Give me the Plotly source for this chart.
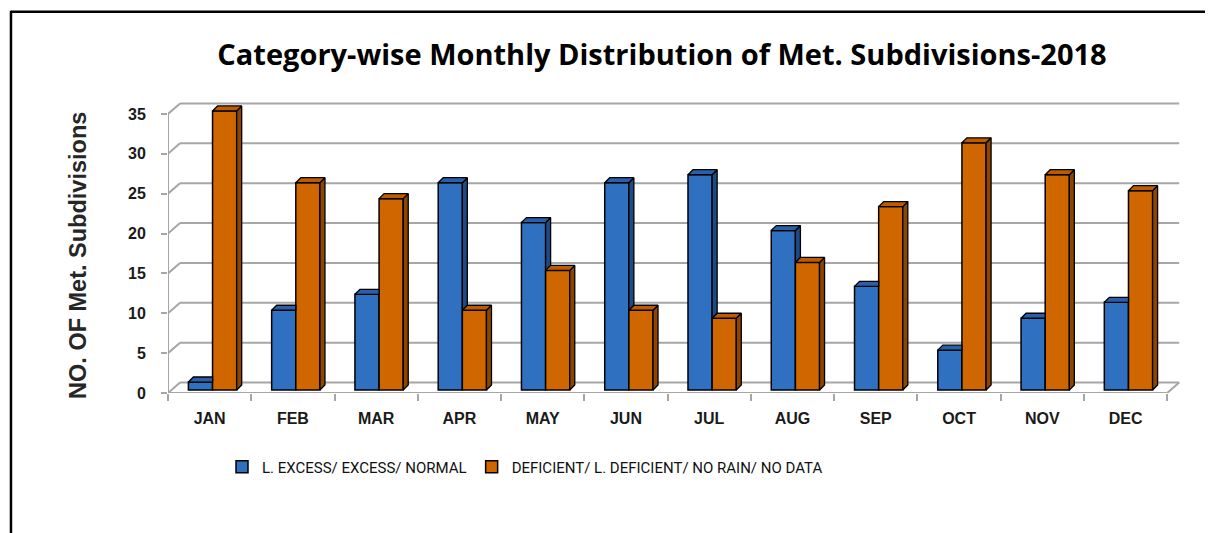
import plotly.graph_objects as go

months = ["JAN", "FEB", "MAR", "APR", "MAY", "JUN", "JUL", "AUG", "SEP", "OCT", "NOV", "DEC"]
excess_normal = [1, 10, 12, 26, 21, 26, 27, 20, 13, 5, 9, 11]
deficient = [35, 26, 24, 10, 15, 10, 9, 16, 23, 31, 27, 25]
y_ticks = [0, 5, 10, 15, 20, 25, 30, 35]

name_a = "L. EXCESS/ EXCESS/ NORMAL"
name_b = "DEFICIENT/ L. DEFICIENT/ NO RAIN/ NO DATA"

BLUE, BLUE_TOP, BLUE_SIDE = "#3070C0", "#2A60A8", "#1E4A85"
ORNG, ORNG_TOP, ORNG_SIDE = "#D06600", "#BC5C00", "#8C4600"
GRID = "#A6A6A6"

# page offset of the figure inside the browser window (body margin)
OFF = 8
W, H = 1213 - OFF, 533 - OFF

# geometry, reference-pixel based
L_PX, PX_X = 168 - OFF, 83.25
B_PX, PX_Y = 393 - OFF, 7.97
XMIN, XMAX = -0.5, 11.75
YMIN, YMAX = 0, 37.5
plot_w = (XMAX - XMIN) * PX_X
plot_h = (YMAX - YMIN) * PX_Y
DX, DY = 12 / PX_X, 10.5 / PX_Y        # wall depth
BASE = 3 / PX_Y                          # bars sit slightly behind front
FDX, FDY = 5 / PX_X, 5 / PX_Y            # bar depth
BW = 0.29
OFF_A, OFF_B = -0.255, 0.035

xs = list(range(len(months)))

fig = go.Figure()
fig.add_trace(go.Bar(x=xs, y=excess_normal, base=BASE, width=BW, offset=OFF_A, name=name_a,
                     marker=dict(color=BLUE, line=dict(color="black", width=1.5)), hoverinfo="skip"))
fig.add_trace(go.Bar(x=xs, y=deficient, base=BASE, width=BW, offset=OFF_B, name=name_b,
                     marker=dict(color=ORNG, line=dict(color="black", width=1.5)), hoverinfo="skip"))


def poly_trace(polys, color):
    px, py = [], []
    for p in polys:
        for (a, b) in p + [p[0]]:
            px.append(a)
            py.append(b)
        px.append(None)
        py.append(None)
    return go.Scatter(x=px, y=py, mode="lines", fill="toself", fillcolor=color,
                      line=dict(color="black", width=1.3), showlegend=False, hoverinfo="skip")


a_side, a_top, b_side, b_top = [], [], [], []
for i, (va, vb) in enumerate(zip(excess_normal, deficient)):
    ta, tb = va + BASE, vb + BASE
    x0a, x1a = i + OFF_A, i + OFF_A + BW
    x0b, x1b = i + OFF_B, i + OFF_B + BW
    if ta > tb:
        a_side.append([(x1a, tb), (x1a, ta), (x1a + FDX, ta + FDY), (x1a + FDX, tb)])
        a_top.append([(x0a, ta), (x1a, ta), (x1a + FDX, ta + FDY), (x0a + FDX, ta + FDY)])
    else:
        a_top.append([(x0a, ta), (x1a, ta), (x1a, ta + FDY), (x0a + FDX, ta + FDY)])
    b_side.append([(x1b, BASE), (x1b, tb), (x1b + FDX, tb + FDY), (x1b + FDX, BASE + FDY)])
    b_top.append([(x0b, tb), (x1b, tb), (x1b + FDX, tb + FDY), (x0b + FDX, tb + FDY)])

fig.add_trace(poly_trace(a_side, BLUE_SIDE))
fig.add_trace(poly_trace(a_top, BLUE_TOP))
fig.add_trace(poly_trace(b_side, ORNG_SIDE))
fig.add_trace(poly_trace(b_top, ORNG_TOP))

# walls / gridlines
shapes = []
x_left, x_right = -0.5, len(months) - 0.5
for v in y_ticks:
    shapes.append(dict(type="line", xref="x", yref="y", x0=x_left, y0=v, x1=x_left + DX, y1=v + DY,
                       line=dict(color=GRID, width=2), layer="below"))
    shapes.append(dict(type="line", xref="x", yref="y", x0=x_left + DX, y0=v + DY, x1=x_right + DX, y1=v + DY,
                       line=dict(color=GRID, width=2), layer="below"))
shapes.append(dict(type="line", xref="x", yref="y", x0=x_left, y0=0, x1=x_right, y1=0,
                   line=dict(color=GRID, width=2), layer="below"))
shapes.append(dict(type="line", xref="x", yref="y", x0=x_right, y0=0, x1=x_right + DX, y1=DY,
                   line=dict(color=GRID, width=2), layer="below"))
shapes.append(dict(type="line", xref="x", yref="y", x0=x_left, y0=0, x1=x_left, y1=y_ticks[-1],
                   line=dict(color=GRID, width=2), layer="below"))


# reference-pixel -> paper
def pxx(p):
    return (p - OFF - L_PX) / plot_w


def pxy(p):
    return (B_PX - (p - OFF)) / plot_h


shapes.append(dict(type="line", xref="paper", yref="paper", x0=pxx(11), y0=pxy(12), x1=pxx(1220), y1=pxy(12),
                   line=dict(color="black", width=2.5)))
shapes.append(dict(type="line", xref="paper", yref="paper", x0=pxx(11), y0=pxy(11), x1=pxx(11), y1=pxy(540),
                   line=dict(color="black", width=2.5)))

fig.update_layout(
    width=W, height=H,
    margin=dict(l=L_PX, r=W - L_PX - plot_w, t=B_PX - plot_h, b=H - B_PX, autoexpand=False),
    paper_bgcolor="white", plot_bgcolor="white",
    barmode="overlay",
    shapes=shapes,
    title=dict(text="<b>Category-wise Monthly Distribution of Met. Subdivisions-2018</b>",
               x=(662 - OFF) / W, y=1 - (55 - OFF) / H, xanchor="center", yanchor="middle",
               font=dict(family="Open Sans", size=29, color="black")),
    xaxis=dict(range=[XMIN, XMAX], tickvals=xs, ticktext=["<b>%s</b>" % m for m in months],
               ticks="", showgrid=False, zeroline=False, showline=False, ticklabelstandoff=14,
               tickfont=dict(family="Liberation Sans", size=16, color="#1a1a1a"),
               minor=dict(tickvals=[i - 0.5 for i in range(len(months) + 1)], ticks="outside",
                          ticklen=7, tickcolor=GRID, tickwidth=2, showgrid=False),
               fixedrange=True),
    yaxis=dict(range=[YMIN, YMAX], tickvals=y_ticks, ticktext=["<b>%d</b>" % v for v in y_ticks],
               ticks="outside", ticklen=6, tickcolor=GRID, tickwidth=2, ticklabelstandoff=12,
               showgrid=False, zeroline=False, showline=False,
               tickfont=dict(family="Liberation Sans", size=16, color="#1a1a1a"), fixedrange=True),
    legend=dict(orientation="h", x=pxx(222), y=pxy(467), xanchor="left", yanchor="middle",
                font=dict(family="Roboto, sans-serif", size=15, color="#111111"),
                bgcolor="rgba(0,0,0,0)", itemwidth=30),
    annotations=[dict(text="<b>NO. OF Met. Subdivisions</b>", xref="paper", yref="paper",
                      x=pxx(78), y=pxy(255), textangle=-90, showarrow=False,
                      xanchor="center", yanchor="middle",
                      font=dict(family="Liberation Sans", size=23.5, color="#262626"))],
    showlegend=True,
)

fig.write_html("out.html")
